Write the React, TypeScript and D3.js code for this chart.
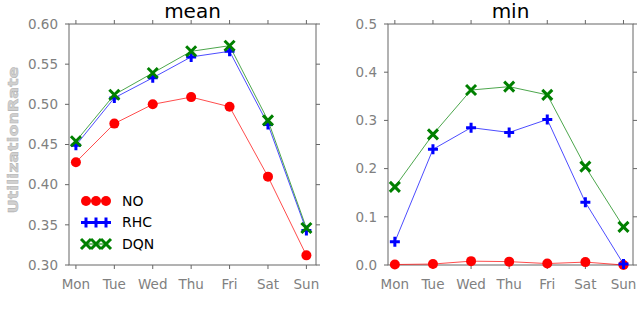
import React from "react";
import * as d3 from "d3";

const days = ["Mon", "Tue", "Wed", "Thu", "Fri", "Sat", "Sun"];

// mean panel
const meanNO = [0.428, 0.476, 0.5, 0.509, 0.497, 0.41, 0.312];
const meanRHC = [0.449, 0.508, 0.533, 0.559, 0.566, 0.475, 0.343];
const meanDQN = [0.454, 0.512, 0.539, 0.566, 0.573, 0.48, 0.346];
const meanTicks = [0.3, 0.35, 0.4, 0.45, 0.5, 0.55, 0.6];

// min panel
const minNO = [0.001, 0.002, 0.008, 0.007, 0.003, 0.006, 0.0];
const minRHC = [0.048, 0.24, 0.285, 0.275, 0.302, 0.13, 0.002];
const minDQN = [0.162, 0.271, 0.363, 0.37, 0.353, 0.204, 0.079];
const minTicks = [0.0, 0.1, 0.2, 0.3, 0.4, 0.5];

const seriesNames = ["NO", "RHC", "DQN"];
const seriesColors = ["#ff0000", "#0000ff", "#008000"];

const FONT = "DejaVu Sans, sans-serif";
const TICK_COLOR = "#808080";

function Marker({ kind, x, y, color }: { kind: number; x: number; y: number; color: string }) {
  if (kind === 0) return <circle cx={x} cy={y} r={5} fill={color} />;
  const s = 5;
  if (kind === 1)
    return (
      <path
        d={`M${x - s},${y}H${x + s}M${x},${y - s}V${y + s}`}
        stroke={color}
        strokeWidth={3}
      />
    );
  return (
    <path
      d={`M${x - s},${y - s}L${x + s},${y + s}M${x - s},${y + s}L${x + s},${y - s}`}
      stroke={color}
      strokeWidth={3}
    />
  );
}

function Panel({
  left,
  right,
  title,
  data,
  ticks,
  domain,
  fmt,
  legend,
}: {
  left: number;
  right: number;
  title: string;
  data: number[][];
  ticks: number[];
  domain: [number, number];
  fmt: string;
  legend?: boolean;
}) {
  const top = 24;
  const bottom = 265;
  const x = d3.scaleLinear().domain([-0.18, 6.25]).range([left, right]);
  const y = d3.scaleLinear().domain(domain).range([bottom, top]);
  const format = d3.format(fmt);
  const line = d3
    .line<number>()
    .x((_, i) => x(i))
    .y((d) => y(d));
  const tl = 4;

  return (
    <g>
      <rect x={left} y={top} width={right - left} height={bottom - top} fill="none" stroke="#666" strokeWidth={1} />
      {ticks.map((t) => (
        <g key={t}>
          <line x1={left - tl} x2={left} y1={y(t)} y2={y(t)} stroke="#666" />
          <line x1={right} x2={right + tl} y1={y(t)} y2={y(t)} stroke="#666" />
          <text
            x={left - 11}
            y={y(t)}
            dy="0.35em"
            textAnchor="end"
            fontSize={13.5}
            fontFamily={FONT}
            fill={TICK_COLOR}
          >
            {format(t)}
          </text>
        </g>
      ))}
      {days.map((d, i) => (
        <g key={d}>
          <line x1={x(i)} x2={x(i)} y1={bottom} y2={bottom + tl} stroke="#666" />
          <line x1={x(i)} x2={x(i)} y1={top - tl} y2={top} stroke="#666" />
          <text
            x={x(i)}
            y={bottom + 19}
            dy="0.35em"
            textAnchor="middle"
            fontSize={13.5}
            fontFamily={FONT}
            fill={TICK_COLOR}
          >
            {d}
          </text>
        </g>
      ))}
      <text x={(left + right) / 2} y={18} textAnchor="middle" fontSize={20} fontFamily={FONT} fill="#000">
        {title}
      </text>
      {data.map((vals, k) => (
        <g key={k}>
          <path d={line(vals) ?? ""} fill="none" stroke={seriesColors[k]} strokeWidth={1} opacity={0.7} />
          {vals.map((v, i) => (
            <Marker key={i} kind={k} x={x(i)} y={y(v)} color={seriesColors[k]} />
          ))}
        </g>
      ))}
      {legend &&
        seriesNames.map((name, k) => {
          const ly = 201 + k * 21.5;
          return (
            <g key={name}>
              <line x1={86} x2={106} y1={ly} y2={ly} stroke={seriesColors[k]} strokeWidth={1} />
              {[86, 96, 106].map((mx) => (
                <Marker key={mx} kind={k} x={mx} y={ly} color={seriesColors[k]} />
              ))}
              <text x={122} y={ly} dy="0.35em" fontSize={14} fontFamily={FONT} fill="#000">
                {name}
              </text>
            </g>
          );
        })}
    </g>
  );
}

export default function App() {
  return (
    <svg width={640} height={322} style={{ position: "absolute", left: 0, top: 0, background: "#fff" }}>
      <rect width={640} height={322} fill="#fff" />
      <text
        transform="translate(18,140) rotate(-90) scale(1,0.8)"
        textAnchor="middle"
        fontSize={17.5}
        fontWeight="bold"
        fontFamily={FONT}
        fill="#d0d0d0"
        stroke="#b0b0b0"
        strokeWidth={0.6}
      >
        UtilizationRate
      </text>
      <Panel
        left={69}
        right={316}
        title="mean"
        data={[meanNO, meanRHC, meanDQN]}
        ticks={meanTicks}
        domain={[0.3, 0.6]}
        fmt=".2f"
        legend
      />
      <Panel
        left={388}
        right={633}
        title="min"
        data={[minNO, minRHC, minDQN]}
        ticks={minTicks}
        domain={[0, 0.5]}
        fmt=".1f"
      />
    </svg>
  );
}
